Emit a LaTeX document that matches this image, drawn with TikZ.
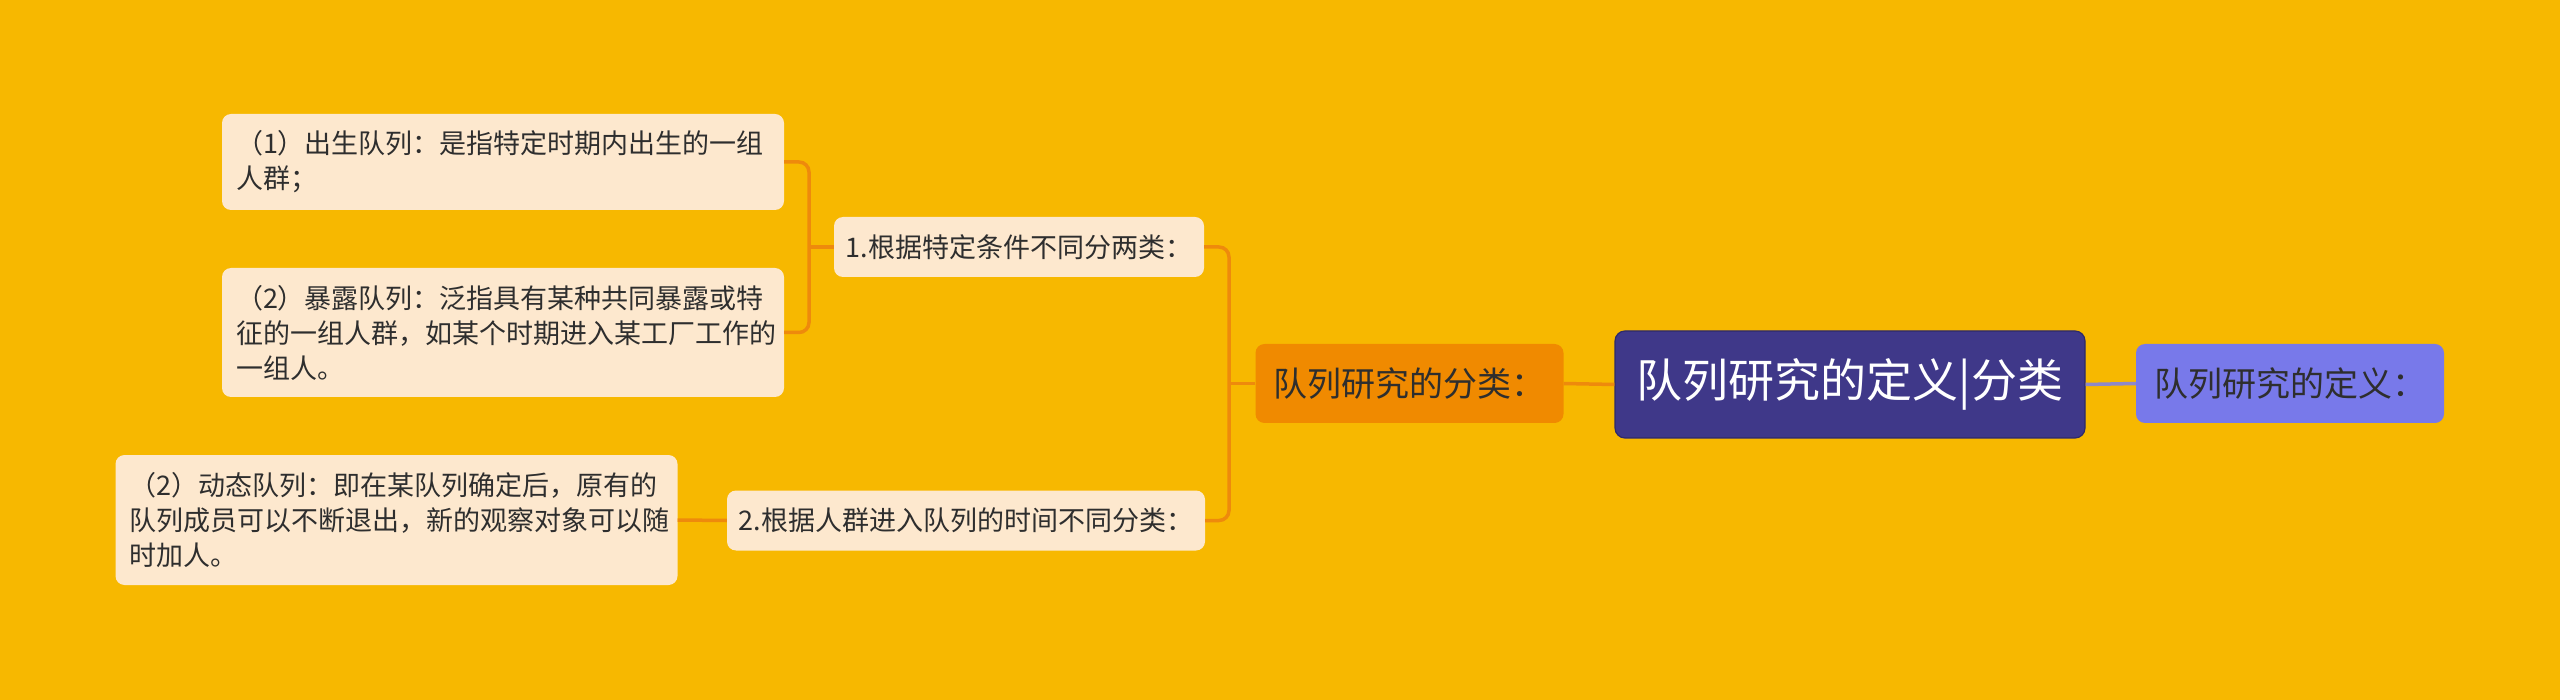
\documentclass[tikz,border=0pt]{standalone}
\usepackage{fontspec}
\setmainfont{Noto Sans CJK SC}
\definecolor{bg}{HTML}{F7B800}
\definecolor{orangec}{HTML}{F08A00}
\definecolor{linec}{HTML}{EE8A0C}
\definecolor{leafc}{HTML}{FDE8CE}
\definecolor{rootc}{HTML}{3F3889}
\definecolor{rootb}{HTML}{2E2A6A}
\definecolor{defc}{HTML}{7879EA}
\definecolor{defline}{HTML}{8E88C8}
\definecolor{txt}{HTML}{2E2E2E}
\begin{document}
\begin{tikzpicture}[x=1pt,y=-1pt,
  box/.style={rounded corners=9pt, inner sep=0pt, text=txt, align=center},
  leaf/.style={box, fill=leafc, font=\fontsize{27}{35}\selectfont, align=left, text width=534pt, minimum width=562pt},
  mid/.style={box, fill=leafc, font=\fontsize{27}{35}\selectfont, minimum height=60pt},
  big/.style={box, font=\fontsize{34}{40}\selectfont, minimum width=308pt, minimum height=79pt},
  conn/.style={draw=linec, line width=3.5pt, rounded corners=10pt}
]
\fill[bg] (0,0) rectangle (2560,700);
\useasboundingbox (0,0) rectangle (2560,700);

\node[box, fill=rootc, draw=rootb, line width=1.2pt, text=white, font=\fontsize{46}{52}\selectfont,
      minimum width=470pt, minimum height=107pt, rounded corners=10pt] (root) at (1850,384.5) {队列研究的定义|分类};
\node[big, fill=defc] (def) at (2290,383.5) {队列研究的定义：};
\node[big, fill=orangec] (cls) at (1409.5,383.5) {队列研究的分类：};

\node[mid, minimum width=370pt] (n1) at (1019,247) {1.根据特定条件不同分两类：};
\node[mid, minimum width=478pt] (n2) at (966,520.5) {2.根据人群进入队列的时间不同分类：};

\node[leaf, minimum height=96pt] (l1) at (503,162) {（1）出生队列：是指特定时期内出生的一组\\人群；};
\node[leaf, minimum height=129pt] (l2) at (503,332.5) {（2）暴露队列：泛指具有某种共同暴露或特\\征的一组人群，如某个时期进入某工厂工作的\\一组人。};
\node[leaf, minimum height=130pt] (l3) at (396.5,520) {（2）动态队列：即在某队列确定后，原有的\\队列成员可以不断退出，新的观察对象可以随\\时加人。};

\coordinate (b1) at (1229,383.5);
\coordinate (b2) at (809,247);

\draw[draw=defline, line width=3.5pt] (root.east) -- (def.west);
\draw[conn] (cls.east) -- (root.west);
\draw[conn] (cls.west) -- (b1);
\draw[conn] (n1.east) -| (b1) |- (n2.east);
\draw[conn] (n1.west) -- (b2);
\draw[conn] (l1.east) -| (b2) |- (l2.east);
\draw[conn] (n2.west) -- (l3.east);
\end{tikzpicture}
\end{document}
